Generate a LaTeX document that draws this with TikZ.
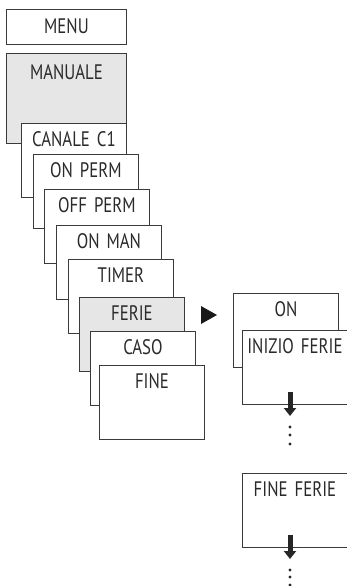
\documentclass[tikz,border=0pt]{standalone}
\usepackage{fontspec}
\setmainfont[FakeStretch=0.8]{PT Sans}
\usepackage{tikz}
\usetikzlibrary{arrows.meta}

\definecolor{boxline}{HTML}{3A3A3A}
\definecolor{boxgray}{HTML}{E6E6E6}
\definecolor{textgray}{HTML}{2A2A2A}

\tikzset{
  menubox/.style={draw=boxline, line width=0.9pt, fill=white, anchor=north west,
    inner sep=0pt, text width=105pt, align=center, text=textgray,
    font=\fontsize{21}{23}\selectfont, text height=23pt, text depth=51pt},
  downarrow/.style={line width=5pt, -{Triangle[width=12pt,length=8pt]}, black!85},
  dotpt/.style={circle, fill=black!85, inner sep=0pt, minimum size=3.2pt}
}

\begin{document}
\begin{tikzpicture}[x=1pt, y=-1pt]
      \useasboundingbox (0,0) rectangle (346,586);

      % Draw the main menu
      \node[menubox, text width=120pt, text height=24pt, text depth=11pt] (menu) at (6,9) {MENU};
      \node[menubox, fill=boxgray, text width=120pt, text height=26pt, text depth=64pt] (manuale) at (6,53) {MANUALE};

      % Draw the manual submenu
      \node[menubox] (canale) at (21,123) {CANALE C1};
      \node[menubox] (onperm) at (33,154) {ON PERM};
      \node[menubox] (offperm) at (44,189) {OFF PERM};
      \node[menubox] (onman) at (56,225) {ON MAN};
      \node[menubox] (timer) at (68,259) {TIMER};
      \node[menubox, fill=boxgray] (ferie) at (79,297) {FERIE};
      \node[menubox] (caso) at (90,331) {CASO};
      \node[menubox] (fine) at (99,365) {FINE};

      % Draw the pointer
      \fill[black!90] (201,306) -- (217,315) -- (201,324) -- cycle;

      % Draw the holiday submenu
      \node[menubox] (on) at (233,293) {ON};
      \node[menubox] (inizio) at (242,330) {INIZIO FERIE};
      \node[menubox] (fineferie) at (242,473) {FINE FERIE};

      % Draw the arrows and dots
      \coordinate (a1) at (290,392);
      \coordinate (b1) at (290,416);
      \draw[downarrow] (a1) -- (b1);
      \node[dotpt] (d1) at (290,427) {};
      \node[dotpt] (d2) at (290,435) {};
      \node[dotpt] (d3) at (290,444) {};

      \coordinate (a2) at (290,535);
      \coordinate (b2) at (290,559);
      \draw[downarrow] (a2) -- (b2);
      \node[dotpt] (d4) at (290,570) {};
      \node[dotpt] (d5) at (290,577) {};
      \node[dotpt] (d6) at (290,585) {};
    \end{tikzpicture}
\end{document}
